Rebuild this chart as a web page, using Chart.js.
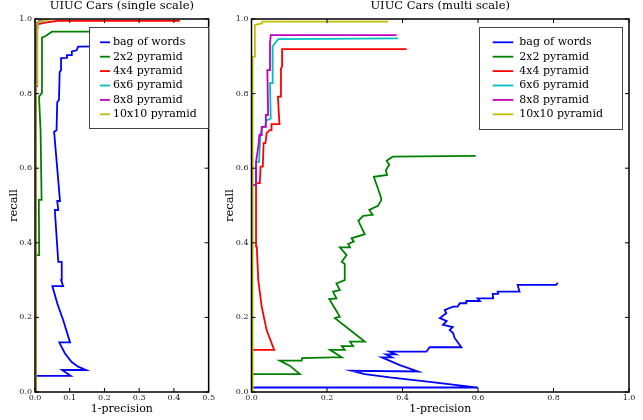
<!DOCTYPE html>
<html>
<head>
<meta charset="utf-8">
<script src="https://cdn.jsdelivr.net/npm/chart.js@4.4.0/dist/chart.umd.min.js"></script>
<style>
  html, body { margin: 0; padding: 0; background: #fff; }
  #wrap { position: relative; width: 643px; height: 420px; }
  canvas { position: absolute; top: 0; }
  #single { left: 0; }
  #multi { left: 216px; }
</style>
</head>
<body>
<div id="wrap">
  <canvas id="single" width="216" height="420"></canvas>
  <canvas id="multi" width="427" height="420"></canvas>
</div>
<script>
// series names and colours (b g r c m y)
const seriesNames = ['bag of words', '2x2 pyramid', '4x4 pyramid', '6x6 pyramid', '8x8 pyramid', '10x10 pyramid'];
const seriesColors = ['#0000ff', '#008000', '#ff0000', '#00bfbf', '#bf00bf', '#bfbf00'];

// --- single scale: x = 1-precision, y = recall ---
const singleBowX = [0, 0.103, 0.078, 0.147, 0.124, 0.105, 0.086, 0.072, 0.070, 0.101, 0.081, 0.064, 0.050, 0.081, 0.075, 0.077, 0.067, 0.057, 0.067, 0.064, 0.072, 0.055, 0.062, 0.064, 0.069, 0.071, 0.075, 0.075, 0.090, 0.092, 0.105, 0.106, 0.120, 0.124, 0.45];
const singleBowY = [0.043, 0.043, 0.059, 0.059, 0.068, 0.081, 0.104, 0.129, 0.133, 0.133, 0.193, 0.238, 0.284, 0.284, 0.300, 0.349, 0.349, 0.488, 0.488, 0.512, 0.512, 0.698, 0.702, 0.777, 0.783, 0.858, 0.863, 0.895, 0.896, 0.903, 0.903, 0.913, 0.916, 0.926, 0.93];
const singleP2X = [0.002, 0.002, 0.012, 0.011, 0.019, 0.016, 0.012, 0.012, 0.020, 0.020, 0.028, 0.035, 0.042, 0.049, 0.40];
const singleP2Y = [0, 0.367, 0.367, 0.515, 0.515, 0.702, 0.783, 0.792, 0.802, 0.950, 0.953, 0.957, 0.962, 0.966, 0.966];
const singleP4X = [0.002, 0.002, 0.004, 0.004, 0.02, 0.04, 0.066, 0.417];
const singleP4Y = [0, 0.94, 0.94, 0.985, 0.988, 0.992, 0.995, 0.995];
const singleP6X = [0.002, 0.002, 0.008, 0.008, 0.023, 0.035];
const singleP6Y = [0, 0.97, 0.975, 0.99, 0.995, 1.0];
const singleP8X = [0.002, 0.002, 0.006, 0.006, 0.013, 0.02];
const singleP8Y = [0, 0.82, 0.82, 0.99, 0.995, 1.0];
const singleP10X = [0.002, 0.002, 0.007, 0.007, 0.018, 0.03, 0.045];
const singleP10Y = [0, 0.825, 0.825, 0.99, 0.995, 0.997, 1.0];

// --- multi scale ---
const multiBowX = [0, 0.600, 0.472, 0.366, 0.300, 0.265, 0.441, 0.393, 0.345, 0.372, 0.356, 0.382, 0.366, 0.463, 0.472, 0.556, 0.538, 0.534, 0.525, 0.533, 0.507, 0.517, 0.499, 0.516, 0.512, 0.534, 0.546, 0.552, 0.569, 0.569, 0.605, 0.599, 0.640, 0.639, 0.653, 0.652, 0.710, 0.705, 0.807, 0.811];
const multiBowY = [0.012, 0.012, 0.027, 0.039, 0.048, 0.057, 0.055, 0.072, 0.093, 0.093, 0.101, 0.101, 0.108, 0.108, 0.120, 0.120, 0.145, 0.158, 0.166, 0.174, 0.180, 0.190, 0.198, 0.211, 0.220, 0.229, 0.229, 0.238, 0.238, 0.244, 0.244, 0.251, 0.251, 0.263, 0.263, 0.269, 0.269, 0.287, 0.287, 0.293];
const multiP2X = [0, 0, 0.128, 0.102, 0.075, 0.133, 0.134, 0.212, 0.239, 0.208, 0.247, 0.239, 0.269, 0.261, 0.300, 0.261, 0.221, 0.234, 0.221, 0.206, 0.225, 0.216, 0.234, 0.225, 0.247, 0.247, 0.239, 0.252, 0.234, 0.261, 0.256, 0.271, 0.265, 0.300, 0.283, 0.296, 0.321, 0.312, 0.335, 0.344, 0.342, 0.324, 0.359, 0.356, 0.365, 0.358, 0.374, 0.594];
const multiP2Y = [0, 0.048, 0.048, 0.070, 0.084, 0.084, 0.091, 0.093, 0.093, 0.113, 0.113, 0.123, 0.123, 0.135, 0.135, 0.166, 0.198, 0.202, 0.224, 0.249, 0.251, 0.269, 0.273, 0.291, 0.300, 0.343, 0.349, 0.367, 0.388, 0.388, 0.397, 0.403, 0.412, 0.423, 0.459, 0.472, 0.475, 0.488, 0.499, 0.515, 0.525, 0.577, 0.582, 0.595, 0.609, 0.620, 0.631, 0.633];
const multiP4X = [0, 0, 0.060, 0.040, 0.027, 0.018, 0.014, 0.012, 0.012, 0.022, 0.024, 0.030, 0.032, 0.037, 0.040, 0.048, 0.052, 0.053, 0.074, 0.070, 0.078, 0.078, 0.081, 0.081, 0.411];
const multiP4Y = [0, 0.113, 0.113, 0.166, 0.229, 0.300, 0.390, 0.479, 0.560, 0.560, 0.604, 0.604, 0.667, 0.667, 0.694, 0.702, 0.702, 0.718, 0.718, 0.792, 0.792, 0.868, 0.872, 0.919, 0.919];
const multiP6X = [0, 0, 0.012, 0.012, 0.020, 0.024, 0.030, 0.036, 0.040, 0.047, 0.051, 0.049, 0.056, 0.056, 0.065, 0.071, 0.388];
const multiP6Y = [0, 0.555, 0.555, 0.617, 0.617, 0.694, 0.711, 0.711, 0.729, 0.731, 0.734, 0.828, 0.828, 0.926, 0.939, 0.946, 0.948];
const multiP8X = [0, 0, 0.012, 0.012, 0.018, 0.021, 0.027, 0.027, 0.036, 0.038, 0.044, 0.042, 0.047, 0.049, 0.051, 0.384];
const multiP8Y = [0, 0.555, 0.555, 0.617, 0.658, 0.689, 0.689, 0.711, 0.711, 0.743, 0.743, 0.863, 0.863, 0.935, 0.957, 0.957];
const multiP10X = [0.003, 0.003, 0.009, 0.009, 0.027, 0.029, 0.362];
const multiP10Y = [0, 0.899, 0.899, 0.984, 0.988, 0.993, 0.993];

const yTicks = [0, 0.2, 0.4, 0.6, 0.8, 1.0];

const serif = 'DejaVu Serif';

function pts(xs, ys) {
  return xs.map((x, i) => ({ x: x, y: ys[i] }));
}

function makeDatasets(series) {
  return series.map((s, i) => ({
    label: seriesNames[i],
    data: pts(s[0], s[1]),
    borderColor: seriesColors[i],
    backgroundColor: seriesColors[i],
    borderWidth: 1.8,
    pointRadius: 0,
    tension: 0,
    fill: false,
    clip: 0,
    order: series.length - 1 - i   // later series on top
  }));
}

// frame, inward ticks and the boxed legend inside the axes
const framePlugin = {
  id: 'framePlugin',
  afterDatasetsDraw(chart, args, opts) {
    const ctx = chart.ctx;
    const a = chart.chartArea;
    const xs = chart.scales.x, ys = chart.scales.y;
    ctx.save();
    ctx.strokeStyle = '#000';
    ctx.lineWidth = 1;
    ctx.beginPath();
    xs.ticks.forEach((t, i) => {
      const px = xs.getPixelForTick(i);
      ctx.moveTo(px, a.bottom); ctx.lineTo(px, a.bottom - 4);
      ctx.moveTo(px, a.top); ctx.lineTo(px, a.top + 4);
    });
    ys.ticks.forEach((t, i) => {
      const py = ys.getPixelForTick(i);
      ctx.moveTo(a.left, py); ctx.lineTo(a.left + 4, py);
      ctx.moveTo(a.right, py); ctx.lineTo(a.right - 4, py);
    });
    ctx.stroke();
    ctx.lineWidth = 1.5;
    ctx.strokeRect(a.left, a.top, a.width, a.height);

    const L = opts.box;
    ctx.fillStyle = '#fff';
    ctx.fillRect(L.x0, L.y0, L.x1 - L.x0, L.y1 - L.y0);
    ctx.strokeStyle = '#444';
    ctx.lineWidth = 1;
    ctx.strokeRect(L.x0 + 0.5, L.y0 + 0.5, L.x1 - L.x0, L.y1 - L.y0);
    ctx.font = '11px "' + serif + '"';
    ctx.textBaseline = 'middle';
    ctx.textAlign = 'left';
    chart.data.datasets.forEach((ds, i) => {
      const y = L.row0 + i * L.rowStep;
      ctx.strokeStyle = ds.borderColor;
      ctx.lineWidth = 1.8;
      ctx.beginPath();
      ctx.moveTo(L.lx0, y); ctx.lineTo(L.lx1, y);
      ctx.stroke();
      ctx.fillStyle = '#000';
      ctx.fillText(ds.label, L.tx, y);
    });
    ctx.restore();
  }
};

function makeChart(id, title, series, xMax, xStep, yWidth, padRight, box) {
  return new Chart(document.getElementById(id).getContext('2d'), {
    type: 'line',
    data: { datasets: makeDatasets(series) },
    options: {
      responsive: false,
      animation: false,
      events: [],
      layout: { padding: { left: 0, right: padRight, top: 0, bottom: 0 } },
      plugins: {
        legend: { display: false },
        tooltip: { enabled: false },
        title: {
          display: true,
          text: title,
          fullSize: false,
          color: '#000',
          font: { family: serif, size: 11.5, weight: 'normal', lineHeight: 1 },
          padding: { top: 0.3, bottom: 7.2 }
        },
        framePlugin: { box: box }
      },
      scales: {
        x: {
          type: 'linear',
          min: 0, max: xMax,
          grid: { display: false, drawTicks: false },
          border: { display: false },
          ticks: {
            stepSize: xStep, autoSkip: false, maxRotation: 0, padding: 1,
            color: '#222', font: { family: serif, size: 8 },
            callback: v => v.toFixed(1)
          },
          title: {
            display: true, text: '1-precision', color: '#000',
            font: { family: serif, size: 11 },
            padding: { top: 0, bottom: 3.9 }
          },
          afterFit: s => { s.height = 28; }
        },
        y: {
          type: 'linear',
          min: 0, max: 1,
          grid: { display: false, drawTicks: false },
          border: { display: false },
          afterBuildTicks: s => { s.ticks = yTicks.map(v => ({ value: v })); },
          ticks: {
            autoSkip: false, padding: 3,
            color: '#222', font: { family: serif, size: 8 },
            callback: v => v.toFixed(1)
          },
          title: {
            display: true, text: 'recall', color: '#000',
            font: { family: serif, size: 11.5 },
            padding: { top: 7, bottom: 0 }
          },
          afterFit: s => { s.width = yWidth; }
        }
      }
    },
    plugins: [framePlugin]
  });
}

makeChart('single', 'UIUC Cars (single scale)', [
  [singleBowX, singleBowY], [singleP2X, singleP2Y], [singleP4X, singleP4Y],
  [singleP6X, singleP6Y], [singleP8X, singleP8Y], [singleP10X, singleP10Y]
], 0.5, 0.1, 35, 7,
  { x0: 89, y0: 27, x1: 208, y1: 128, lx0: 100, lx1: 110, tx: 113, row0: 42.3, rowStep: 14.4 });

makeChart('multi', 'UIUC Cars (multi scale)', [
  [multiBowX, multiBowY], [multiP2X, multiP2Y], [multiP4X, multiP4Y],
  [multiP6X, multiP6Y], [multiP8X, multiP8Y], [multiP10X, multiP10Y]
], 1.0, 0.2, 35.5, 14,
  { x0: 263, y0: 27, x1: 406, y1: 129, lx0: 276.7, lx1: 297.3, tx: 303.3, row0: 42.3, rowStep: 14.4 });
</script>
</body>
</html>
